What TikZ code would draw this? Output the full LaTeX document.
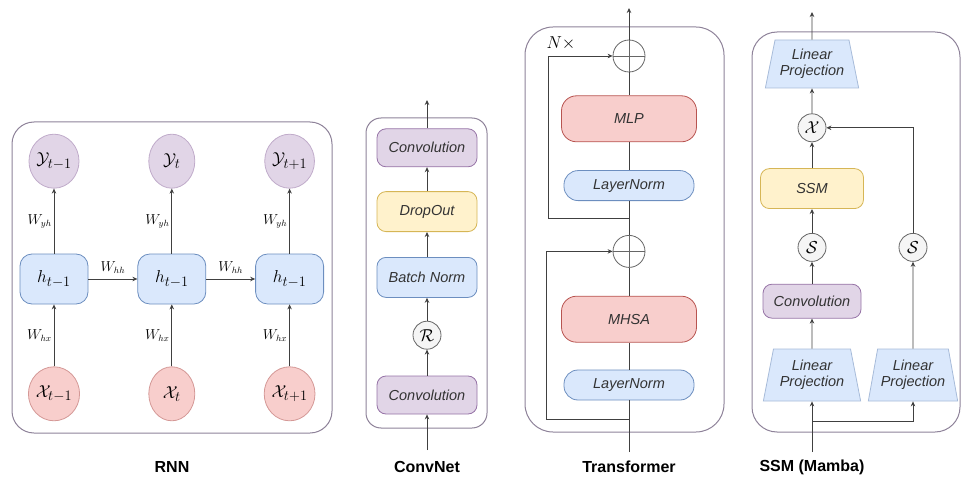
\documentclass[tikz,border=0pt]{standalone}
\usepackage{fontspec}
\setsansfont{Liberation Sans}
\usetikzlibrary{arrows.meta,positioning,shapes.geometric}

\definecolor{convfill}{HTML}{E1D5E7}
\definecolor{convdraw}{HTML}{9673A6}
\definecolor{normfill}{HTML}{DAE8FC}
\definecolor{normdraw}{HTML}{6C8EBF}
\definecolor{attnfill}{HTML}{F8CECC}
\definecolor{attndraw}{HTML}{B85450}
\definecolor{dropfill}{HTML}{FFF2CC}
\definecolor{dropdraw}{HTML}{D6B656}
\definecolor{opfill}{HTML}{F5F5F5}
\definecolor{opdraw}{HTML}{666666}
\definecolor{framecol}{HTML}{8E8299}
\definecolor{wire}{HTML}{404040}
\definecolor{boxtext}{HTML}{333333}

\begin{document}
\begin{tikzpicture}[
        x=1pt, y=-1pt,
        >={Stealth[length=5pt, width=4.5pt]},
        line width=0.8pt,
        box/.style={draw, rounded corners=9pt, inner sep=0pt, text=boxtext,
            font=\sffamily\itshape\fontsize{14.5}{16}\selectfont},
        conv/.style={box, fill=convfill, draw=convdraw, minimum width=100pt, minimum height=38pt},
        norm/.style={box, fill=normfill, draw=normdraw, minimum width=100pt, minimum height=40pt},
        drop/.style={box, fill=dropfill, draw=dropdraw, minimum width=100pt, minimum height=40pt},
        attn/.style={box, fill=attnfill, draw=attndraw, rounded corners=15pt, minimum width=135pt, minimum height=46pt},
        lnorm/.style={box, fill=normfill, draw=normdraw, rounded corners=14pt, minimum width=130pt, minimum height=30pt},
        hid/.style={box, fill=normfill, draw=normdraw, rounded corners=12pt, minimum width=68pt, minimum height=50pt,
            text=black, font=\fontsize{19}{19}\selectfont},
        outp/.style={ellipse, draw=convdraw!60, fill=convfill, minimum width=46pt, minimum height=54pt,
            inner sep=0pt, font=\fontsize{19}{19}\selectfont},
        inp/.style={ellipse, draw=attndraw!60, fill=attnfill, minimum width=46pt, minimum height=54pt,
            inner sep=0pt, font=\fontsize{19}{19}\selectfont},
        op/.style={circle, draw=opdraw, fill=opfill, minimum size=28pt, inner sep=0pt, font=\fontsize{17}{17}\selectfont},
        sumop/.style={circle, draw=opdraw, minimum size=32pt, inner sep=0pt,
            path picture={\draw[opdraw] (path picture bounding box.north) -- (path picture bounding box.south)
                (path picture bounding box.west) -- (path picture bounding box.east);}},
        proj/.style={trapezium, trapezium stretches=true, trapezium angle=74, draw=normdraw!60, fill=normfill,
            minimum width=98pt, minimum height=52pt, inner sep=0pt, align=center, text=boxtext,
            font=\sffamily\itshape\fontsize{14.5}{16}\selectfont},
        panel/.style={draw=framecol, line width=1pt},
        link/.style={draw=wire},
        wt/.style={font=\fontsize{13.5}{13.5}\selectfont, inner sep=2pt},
        title/.style={font=\sffamily\bfseries\fontsize{16}{16}\selectfont}
        ]

        \useasboundingbox (0,0) rectangle (964,484);

        % RNN
        \draw[panel, rounded corners=22pt] (12,122) rectangle (332,433);

        \node[hid] (h1) at (54,279) {$h_{t-1}$};
        \node[hid, right=49pt of h1] (h2) {$h_{t-1}$};
        \node[hid, right=49pt of h2] (h3) {$h_{t-1}$};

        \node[outp, above=65pt of h1] (y1) {$\mathcal{Y}_{t-1}$};
        \node[outp, above=65pt of h2] (y2) {$\mathcal{Y}_{t}$};
        \node[outp, above=65pt of h3] (y3) {$\mathcal{Y}_{t+1}$};

        \node[inp, below=62pt of h1] (x1) {$\mathcal{X}_{t-1}$};
        \node[inp, below=62pt of h2] (x2) {$\mathcal{X}_{t}$};
        \node[inp, below=62pt of h3] (x3) {$\mathcal{X}_{t+1}$};

        \node[title] (rnn) at (172,467) {RNN};

        % Edges
        \draw[link, ->] (x1) -- node[wt, left] {$W_{hx}$} (h1);
        \draw[link, ->] (x2) -- node[wt, left] {$W_{hx}$} (h2);
        \draw[link, ->] (x3) -- node[wt, left] {$W_{hx}$} (h3);
        \draw[link, ->] (h1) -- node[wt, left] {$W_{yh}$} (y1);
        \draw[link, ->] (h2) -- node[wt, left] {$W_{yh}$} (y2);
        \draw[link, ->] (h3) -- node[wt, left] {$W_{yh}$} (y3);
        \draw[link, ->] (h1) -- node[wt, above=3pt] {$W_{hh}$} (h2);
        \draw[link, ->] (h2) -- node[wt, above=3pt] {$W_{hh}$} (h3);

        % ConvNet
        \draw[panel, rounded corners=15pt] (366,118) rectangle (487,428);

        \node[conv] (conva) at (427,395) {Convolution};
        \node[op, above=26pt of conva] (relu) {$\mathcal{R}$};
        \node[norm, above=23pt of relu] (bn) {Batch Norm};
        \node[drop, above=25pt of bn] (dropout) {DropOut};
        \node[conv, above=24pt of dropout] (convb) {Convolution};
        \coordinate (cin) at (427,450);
        \coordinate (cout) at (427,100);

        \node[title] (convnet) at (427,467) {ConvNet};

        % Edges
        \draw[link, ->] (cin) -- (conva);
        \draw[link, ->] (conva) -- (relu);
        \draw[link, ->] (relu) -- (bn);
        \draw[link, ->] (bn) -- (dropout);
        \draw[link, ->] (dropout) -- (convb);
        \draw[link, ->] (convb) -- (cout);

        % Transformer
        \draw[panel, rounded corners=28pt] (525,27) rectangle (724,432);
        \node[font=\fontsize{16}{16}\selectfont] (nrep) at (561,43) {$N\times$};

        \node[lnorm] (lna) at (629,385) {LayerNorm};
        \node[attn, above=27pt of lna] (mhsa) {MHSA};
        \node[sumop, above=28pt of mhsa] (suma) {};
        \node[lnorm, above=34pt of suma] (lnb) {LayerNorm};
        \node[attn, above=28pt of lnb] (mlp) {MLP};
        \node[sumop, above=23pt of mlp] (sumb) {};
        \coordinate (tin) at (629,452);
        \coordinate (tout) at (629,8);
        \coordinate (skipa) at (629,419);
        \coordinate (skipb) at (629,218);

        \node[title] (transformer) at (629,467) {Transformer};

        % Edges
        \draw[link] (tin) -- (lna) -- (mhsa) -- (suma) -- (lnb) -- (mlp) -- (sumb);
        \draw[link, ->] (sumb) -- (tout);
        \draw[link, ->] (skipa) -- ++(-83,0) |- (suma);
        \draw[link, ->] (skipb) -- ++(-81,0) |- (sumb);

        % SSM (Mamba)
        \draw[panel, rounded corners=25pt] (752,32) rectangle (960,432);

        \node[proj] (lpa) at (812,375) {Linear\\Projection};
        \node[conv, minimum width=98pt, minimum height=34pt, above=30pt of lpa] (sconv) {Convolution};
        \node[op, above=22pt of sconv] (sa) {$\mathcal{S}$};
        \node[drop, minimum width=103pt, above=24pt of sa] (ssm) {SSM};
        \node[op, above=26pt of ssm] (gate) {$\mathcal{X}$};
        \node[proj, minimum width=94pt, minimum height=48pt, above=25pt of gate] (lpc) {Linear\\Projection};
        \node[proj, minimum width=90pt] (lpb) at (913,375) {Linear\\Projection};
        \node[op] (sb) at (lpb |- sa) {$\mathcal{S}$};
        \coordinate (sin) at (812,452);
        \coordinate (sfork) at (812,421);
        \coordinate (sout) at (812,12);

        \node[title] (mamba) at (812,467) {SSM (Mamba)};

        % Edges
        \draw[link, ->] (sin) -- (lpa);
        \draw[link, ->] (sfork) -| (lpb);
        \draw[link, ->] (lpa) -- (sconv);
        \draw[link, ->] (sconv) -- (sa);
        \draw[link, ->] (sa) -- (ssm);
        \draw[link, ->] (ssm) -- (gate);
        \draw[link, ->] (gate) -- (lpc);
        \draw[link, ->] (lpc) -- (sout);
        \draw[link, ->] (lpb) -- (sb);
        \draw[link, ->] (sb) |- (gate);

\end{tikzpicture}
\end{document}
